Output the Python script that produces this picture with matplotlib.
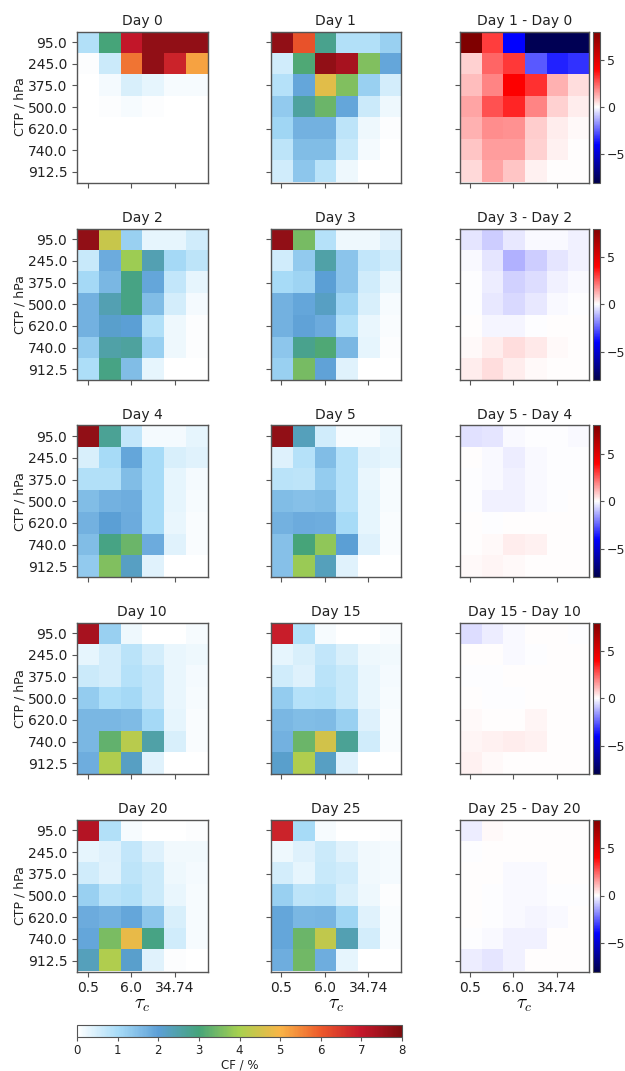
import numpy as np
import matplotlib
matplotlib.use("Agg")
import matplotlib.pyplot as plt
from matplotlib.colors import LinearSegmentedColormap

ctp = [95.0, 245.0, 375.0, 500.0, 620.0, 740.0, 912.5]
tau_ticks = [0.5, 6.0, 34.74]

day0 = [[0.9, 3.0, 7.0, 7.7, 7.7, 7.7],
        [0.05, 0.6, 5.7, 7.7, 6.8, 5.2],
        [0, 0.15, 0.45, 0.3, 0.1, 0.1],
        [0, 0.05, 0.1, 0.05, 0, 0],
        [0, 0, 0.03, 0, 0, 0],
        [0, 0, 0, 0, 0, 0],
        [0, 0, 0, 0, 0, 0]]
day1 = [[7.7, 6.1, 2.8, 0.9, 0.9, 1.2],
        [0.55, 3.1, 7.7, 7.4, 3.6, 1.9],
        [0.85, 1.9, 4.7, 3.6, 1.2, 0.5],
        [1.3, 2.6, 3.4, 1.9, 0.6, 0.2],
        [1.1, 1.7, 1.7, 0.75, 0.2, 0.05],
        [0.75, 1.5, 1.5, 0.65, 0.15, 0.02],
        [0.55, 1.35, 0.8, 0.2, 0.02, 0]]
day2 = [[7.7, 4.4, 1.2, 0.3, 0.3, 0.55],
        [0.65, 1.8, 3.9, 2.4, 1.05, 0.75],
        [1.05, 1.6, 2.9, 1.9, 0.7, 0.3],
        [1.7, 2.4, 2.9, 1.5, 0.5, 0.15],
        [1.7, 2.1, 2.0, 0.9, 0.2, 0.05],
        [1.25, 2.5, 2.6, 1.2, 0.2, 0.05],
        [0.95, 2.9, 1.5, 0.3, 0.02, 0]]
day3 = [[7.7, 3.5, 0.85, 0.2, 0.2, 0.4],
        [0.55, 1.3, 2.5, 1.4, 0.7, 0.55],
        [1.0, 1.15, 2.0, 1.4, 0.55, 0.25],
        [1.7, 1.9, 2.2, 1.15, 0.45, 0.1],
        [1.7, 1.95, 1.8, 0.9, 0.25, 0.07],
        [1.35, 2.8, 3.1, 1.6, 0.3, 0.05],
        [1.2, 3.5, 1.95, 0.35, 0.03, 0]]
day4 = [[7.7, 2.7, 0.7, 0.15, 0.15, 0.3],
        [0.45, 1.0, 1.9, 1.0, 0.45, 0.35],
        [0.9, 0.9, 1.5, 1.0, 0.3, 0.15],
        [1.5, 1.7, 1.75, 1.0, 0.3, 0.1],
        [1.7, 2.0, 1.8, 1.0, 0.25, 0.07],
        [1.5, 2.9, 3.4, 1.8, 0.35, 0.07],
        [1.3, 3.6, 2.2, 0.35, 0.03, 0]]
day5 = [[7.7, 2.3, 0.55, 0.12, 0.12, 0.25],
        [0.4, 0.85, 1.5, 0.85, 0.35, 0.3],
        [0.8, 0.75, 1.25, 0.85, 0.25, 0.12],
        [1.5, 1.45, 1.5, 0.85, 0.3, 0.1],
        [1.7, 1.8, 1.75, 1.0, 0.3, 0.08],
        [1.45, 3.0, 3.75, 2.0, 0.4, 0.07],
        [1.45, 3.85, 2.3, 0.35, 0.03, 0]]
day10 = [[7.4, 1.2, 0.2, 0.02, 0.02, 0.1],
         [0.3, 0.5, 0.8, 0.5, 0.25, 0.2],
         [0.6, 0.5, 0.85, 0.7, 0.25, 0.15],
         [1.25, 0.95, 1.05, 0.7, 0.25, 0.12],
         [1.6, 1.6, 1.55, 1.05, 0.3, 0.08],
         [1.6, 3.3, 4.2, 2.5, 0.45, 0.08],
         [1.75, 4.1, 2.2, 0.35, 0.03, 0]]
day15 = [[6.9, 0.9, 0.12, 0.01, 0.01, 0.07],
         [0.3, 0.45, 0.7, 0.45, 0.2, 0.17],
         [0.55, 0.4, 0.8, 0.65, 0.25, 0.15],
         [1.25, 0.85, 0.9, 0.65, 0.25, 0.1],
         [1.6, 1.5, 1.55, 1.2, 0.4, 0.08],
         [1.7, 3.4, 4.5, 2.7, 0.55, 0.08],
         [2.1, 4.1, 2.2, 0.4, 0.03, 0]]
day20 = [[7.2, 0.9, 0.1, 0, 0, 0.04],
         [0.3, 0.4, 0.7, 0.4, 0.17, 0.17],
         [0.55, 0.35, 0.75, 0.6, 0.2, 0.13],
         [1.2, 0.8, 0.9, 0.6, 0.25, 0.12],
         [1.8, 1.7, 1.9, 1.35, 0.45, 0.1],
         [1.9, 3.55, 4.8, 2.9, 0.55, 0.1],
         [2.3, 4.1, 2.1, 0.35, 0.05, 0]]
day25 = [[6.8, 1.0, 0.1, 0, 0, 0.04],
         [0.2, 0.4, 0.6, 0.35, 0.17, 0.14],
         [0.5, 0.3, 0.65, 0.55, 0.18, 0.13],
         [1.2, 0.75, 0.8, 0.45, 0.2, 0.05],
         [1.9, 1.6, 1.65, 1.1, 0.35, 0.07],
         [1.9, 3.4, 4.3, 2.4, 0.5, 0.08],
         [1.75, 3.45, 1.75, 0.3, 0.02, 0]]

# differences, read on their own since the top of day 0 saturates the scale
diff_1_0 = [[8, 3.0, -4, -7.8, -7.8, -7.8],
            [0.7, 2.4, 3.1, -2.6, -3.5, -3.2],
            [1.0, 1.9, 4.0, 3.2, 1.2, 0.5],
            [1.4, 2.7, 3.4, 1.9, 0.7, 0.25],
            [1.2, 1.8, 1.7, 0.8, 0.25, 0.1],
            [0.9, 1.5, 1.5, 0.7, 0.2, 0.05],
            [0.6, 1.4, 0.9, 0.2, 0.03, 0]]
diff_3_2 = [[-0.4, -0.8, -0.35, -0.1, -0.1, -0.2],
            [-0.1, -0.4, -1.2, -0.8, -0.4, -0.2],
            [-0.05, -0.3, -0.7, -0.55, -0.2, -0.08],
            [-0.05, -0.35, -0.6, -0.35, -0.08, -0.05],
            [0, -0.15, -0.15, -0.02, 0, 0],
            [0.1, 0.3, 0.5, 0.35, 0.1, 0],
            [0.25, 0.5, 0.25, 0.1, 0.02, 0]]
diff_5_4 = [[-0.5, -0.4, -0.12, -0.03, -0.03, -0.08],
            [0, -0.1, -0.3, -0.12, -0.05, -0.05],
            [-0.05, -0.1, -0.25, -0.1, -0.03, -0.02],
            [-0.03, -0.2, -0.2, -0.07, -0.02, 0],
            [0, -0.05, 0, 0, 0, 0],
            [0, 0.1, 0.3, 0.2, 0, 0],
            [0.12, 0.15, 0.08, 0.02, 0, 0]]
diff_15_10 = [[-0.55, -0.3, -0.08, 0, 0, -0.02],
              [0, 0, -0.1, -0.05, 0, 0],
              [-0.05, -0.05, 0, 0, 0, 0],
              [0, -0.03, -0.04, 0, 0, 0.01],
              [0.12, 0, 0, 0.15, 0.02, 0],
              [0.15, 0.2, 0.3, 0.2, 0.03, 0],
              [0.2, 0.08, 0, 0, 0, 0]]
diff_25_20 = [[-0.3, 0.12, 0.02, 0.01, 0.01, 0.01],
              [-0.03, 0, 0, 0, 0, 0],
              [0, 0, -0.08, -0.08, 0, 0],
              [0, -0.05, -0.1, -0.1, -0.05, -0.05],
              [0, -0.03, -0.08, -0.15, -0.1, 0],
              [-0.05, -0.1, -0.25, -0.25, 0, 0],
              [-0.3, -0.4, -0.2, 0, 0, 0]]

rows = [("Day 0", day0, "Day 1", day1, "Day 1 - Day 0", diff_1_0),
        ("Day 2", day2, "Day 3", day3, "Day 3 - Day 2", diff_3_2),
        ("Day 4", day4, "Day 5", day5, "Day 5 - Day 4", diff_5_4),
        ("Day 10", day10, "Day 15", day15, "Day 15 - Day 10", diff_15_10),
        ("Day 20", day20, "Day 25", day25, "Day 25 - Day 20", diff_25_20)]

cf_cmap = LinearSegmentedColormap.from_list("cf", [
    (0 / 8, "#ffffff"), (1 / 8, "#a8dcf8"), (2 / 8, "#5c9fd6"), (3 / 8, "#45a47a"),
    (4 / 8, "#a8d14f"), (5 / 8, "#f9b547"), (6 / 8, "#ed5a2b"), (7 / 8, "#c4172a"),
    (8 / 8, "#7d0d0f")])

W, H = 625, 1071
col_x = [(77, 207.5), (270.5, 401), (459.5, 589)]
row_y = [(31.5, 182.5), (228.5, 380), (425.5, 577), (622.5, 774), (819.5, 971.5)]
edge = "#555555"


def box(x0, x1, y0, y1):
    return [x0 / W, 1 - y1 / H, (x1 - x0) / W, (y1 - y0) / H]


def draw(pos, data, title, cmap, vmin, vmax):
    ax = fig.add_axes(pos)
    im = ax.imshow(data, cmap=cmap, vmin=vmin, vmax=vmax, aspect="auto",
                   interpolation="nearest")
    ax.set_title(title, fontsize=10, pad=5, color="#222222")
    ax.set_xticks([0, 2, 4])
    ax.tick_params(labelsize=10, length=3.5, color=edge, labelcolor="#222222")
    for s in ax.spines.values():
        s.set_color(edge)
        s.set_linewidth(1.0)
    return ax, im


plt.rcParams["mathtext.fontset"] = "cm"
fig = plt.figure(figsize=(W / 100, H / 100), dpi=100)

for r, (t1, d1, t2, d2, t3, d3) in enumerate(rows):
    y0, y1 = row_y[r]
    last = r == len(rows) - 1
    ax1, im1 = draw(box(*col_x[0], y0, y1), d1, t1, cf_cmap, 0, 8)
    ax2, _ = draw(box(*col_x[1], y0, y1), d2, t2, cf_cmap, 0, 8)
    ax3, im3 = draw(box(*col_x[2], y0, y1), d3, t3, "seismic", -8, 8)

    ax1.set_yticks(range(len(ctp)))
    ax1.set_yticklabels([str(v) for v in ctp])
    ax1.set_ylabel("CTP / hPa", fontsize=9, labelpad=1, color="#222222")
    for ax in (ax2, ax3):
        ax.set_yticks([0, 2, 4, 6])
        ax.set_yticklabels([])
    for ax in (ax1, ax2, ax3):
        if last:
            ax.set_xticklabels([str(v) for v in tau_ticks])
            ax.set_xlabel(r"$\tau_c$", fontsize=14, labelpad=0)
        else:
            ax.set_xticklabels([])

    cax = fig.add_axes(box(593, 600, y0, y1))
    cb = fig.colorbar(im3, cax=cax, ticks=[-5, 0, 5])
    cb.ax.tick_params(labelsize=9, length=3, pad=2, color=edge, labelcolor="#222222")
    cb.outline.set_edgecolor(edge)
    cb.ax.set_yticklabels(["\u22125", "0", "5"])

cax = fig.add_axes(box(77, 402, 1024.5, 1037))
cb = fig.colorbar(im1, cax=cax, orientation="horizontal", ticks=range(9))
cb.ax.tick_params(labelsize=8.5, length=3, pad=2, color=edge, labelcolor="#222222")
cb.outline.set_edgecolor(edge)
cb.set_label("CF / %", fontsize=8.5, labelpad=1, color="#222222")

fig.savefig("out.png", dpi=100)
